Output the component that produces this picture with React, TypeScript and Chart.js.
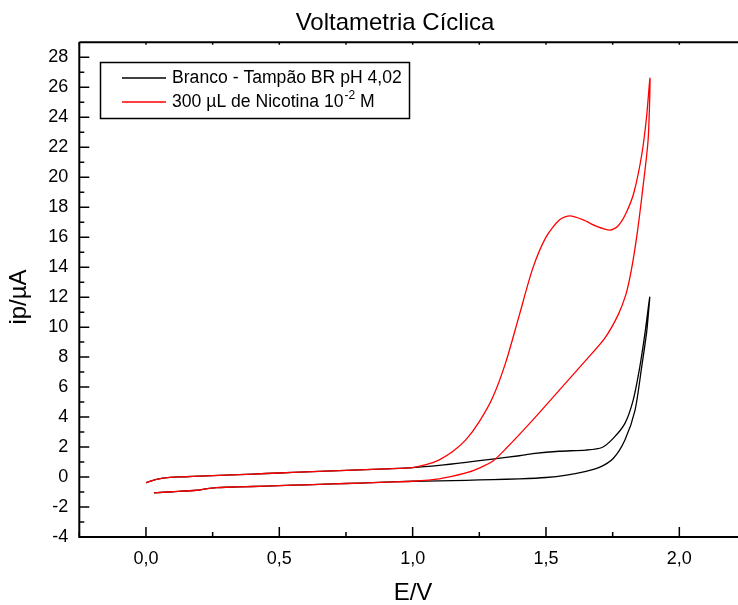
import React, { useEffect, useRef } from "react";
import { Chart, registerables } from "chart.js";

Chart.register(...registerables);

// ---------- text ----------
const chartTitle = "Voltametria Cíclica";
const xAxisTitle = "E/V";
const yAxisTitle = "ip/µA";
const seriesNames = ["Branco - Tampão BR pH 4,02", "300 µL de Nicotina 10"];
const seriesNameSup = ["", "-2"];
const seriesNameTail = ["", " M"];
const seriesColors = ["#000000", "#ff0000"];

// ---------- axes ----------
const xMin = -0.25;
const xMax = 2.22;
const yMin = -4;
const yMax = 29;
const xTicks = [0, 0.5, 1.0, 1.5, 2.0];
const xMinorTicks = [-0.25, 0.25, 0.75, 1.25, 1.75];
const yTicks = [-4, -2, 0, 2, 4, 6, 8, 10, 12, 14, 16, 18, 20, 22, 24, 26, 28];
const yMinorTicks = [-3, -1, 1, 3, 5, 7, 9, 11, 13, 15, 17, 19, 21, 23, 25, 27];

// ---------- data: Branco (forward scan then reverse scan) ----------
const brancoE = [
  0.0, 0.04, 0.09, 0.15, 0.2, 0.3, 0.4, 0.5, 0.6, 0.7, 0.8, 0.9, 1.0, 1.1, 1.2, 1.3, 1.4, 1.45, 1.55, 1.65,
  1.71, 1.752, 1.796, 1.827, 1.852, 1.871, 1.889,
  1.883, 1.877, 1.859, 1.834, 1.796, 1.752, 1.7, 1.65, 1.577, 1.5, 1.4, 1.3, 1.2, 1.1, 1.0,
  0.9, 0.8, 0.7, 0.6, 0.5, 0.4, 0.3, 0.265, 0.23, 0.19, 0.1, 0.03,
];
const brancoI = [
  -0.38, -0.15, -0.02, 0.02, 0.06, 0.13, 0.2, 0.27, 0.34, 0.41, 0.48, 0.55, 0.63, 0.78, 0.98, 1.2, 1.42, 1.56, 1.72, 1.8,
  1.97, 2.58, 3.58, 5.13, 7.36, 9.58, 12.0,
  10.7, 9.6, 7.36, 4.47, 2.47, 1.24, 0.64, 0.38, 0.13, -0.03, -0.12, -0.17, -0.22, -0.26, -0.28,
  -0.34, -0.4, -0.46, -0.52, -0.57, -0.63, -0.68, -0.71, -0.77, -0.88, -0.98, -1.05,
];

// ---------- data: Nicotina (forward scan then reverse scan) ----------
const nicotinaE = [
  0.0, 0.04, 0.09, 0.15, 0.2, 0.3, 0.4, 0.5, 0.6, 0.7, 0.8, 0.9, 1.0, 1.05, 1.1, 1.15, 1.2, 1.25, 1.3, 1.35,
  1.4, 1.45, 1.5, 1.55, 1.59, 1.64, 1.69, 1.74, 1.77, 1.8, 1.83, 1.86, 1.877, 1.89,
  1.883, 1.86, 1.84, 1.82, 1.8, 1.77, 1.72, 1.65, 1.55, 1.45, 1.35, 1.3, 1.25, 1.2, 1.1, 1.0,
  0.9, 0.8, 0.7, 0.6, 0.5, 0.4, 0.3, 0.265, 0.23, 0.19, 0.1, 0.03,
];
const nicotinaI = [
  -0.38, -0.15, -0.02, 0.02, 0.06, 0.13, 0.2, 0.27, 0.34, 0.41, 0.48, 0.55, 0.63, 0.82, 1.15, 1.7, 2.5, 3.7, 5.3, 7.7,
  10.8, 13.9, 16.0, 17.15, 17.42, 17.15, 16.72, 16.47, 16.75, 17.6, 19.0, 21.6, 24.0, 26.6,
  22.5, 18.8, 16.0, 13.8, 12.2, 10.8, 9.25, 7.8, 5.8, 3.8, 1.9, 1.05, 0.6, 0.27, -0.12, -0.28,
  -0.34, -0.4, -0.46, -0.52, -0.57, -0.63, -0.68, -0.71, -0.77, -0.88, -0.98, -1.05,
];

const FONT = "'Liberation Sans', Arial, Helvetica, sans-serif";

const toPoints = (xs: number[], ys: number[]) => xs.map((x, i) => ({ x, y: ys[i] }));

const frameTicksPlugin = {
  id: "frameTicks",
  afterDatasetsDraw(chart: any) {
    const { ctx, chartArea: a, scales } = chart;
    const x = scales.x;
    const y = scales.y;
    ctx.save();
    ctx.strokeStyle = "#000";
    ctx.lineWidth = 2;
    ctx.beginPath();
    ctx.moveTo(a.left, a.top);
    ctx.lineTo(a.right, a.top);
    ctx.moveTo(a.left, a.top);
    ctx.lineTo(a.left, a.bottom);
    ctx.lineTo(a.right, a.bottom);
    ctx.stroke();
    ctx.lineWidth = 1.5;
    ctx.beginPath();
    yTicks.forEach((v) => {
      const p = y.getPixelForValue(v);
      ctx.moveTo(a.left, p);
      ctx.lineTo(a.left + 10, p);
    });
    yMinorTicks.forEach((v) => {
      const p = y.getPixelForValue(v);
      ctx.moveTo(a.left, p);
      ctx.lineTo(a.left + 5, p);
    });
    xTicks.forEach((v) => {
      const p = x.getPixelForValue(v);
      ctx.moveTo(p, a.bottom);
      ctx.lineTo(p, a.bottom - 10);
      ctx.moveTo(p, a.top);
      ctx.lineTo(p, a.top + 2.5);
    });
    xMinorTicks.forEach((v) => {
      const p = x.getPixelForValue(v);
      ctx.moveTo(p, a.bottom);
      ctx.lineTo(p, a.bottom - 5);
      ctx.moveTo(p, a.top);
      ctx.lineTo(p, a.top + 2.5);
    });
    ctx.stroke();
    ctx.restore();
  },
};

const textPlugin = {
  id: "texts",
  afterDraw(chart: any) {
    const { ctx } = chart;
    ctx.save();
    ctx.fillStyle = "#000";
    ctx.textBaseline = "middle";
    ctx.textAlign = "center";
    ctx.font = `24px ${FONT}`;
    ctx.fillText(chartTitle, 395, 23.5);
    ctx.fillText(xAxisTitle, 413, 593);
    ctx.save();
    ctx.translate(19, 297);
    ctx.rotate(-Math.PI / 2);
    ctx.fillText(yAxisTitle, 0, 0);
    ctx.restore();

    // legend box
    ctx.strokeStyle = "#000";
    ctx.lineWidth = 1.5;
    ctx.strokeRect(100.5, 62.5, 309, 56);
    const rows = [78, 102];
    ctx.textAlign = "left";
    seriesNames.forEach((name, i) => {
      const ry = rows[i];
      ctx.strokeStyle = seriesColors[i];
      ctx.lineWidth = 1.3;
      ctx.beginPath();
      ctx.moveTo(122, ry);
      ctx.lineTo(166, ry);
      ctx.stroke();
      ctx.font = `17.6px ${FONT}`;
      let tx = 172;
      ctx.fillText(name, tx, ry);
      tx += ctx.measureText(name).width;
      if (seriesNameSup[i]) {
        ctx.font = `12px ${FONT}`;
        ctx.fillText(seriesNameSup[i], tx + 1, ry - 6);
        tx += ctx.measureText(seriesNameSup[i]).width + 1;
        ctx.font = `17.6px ${FONT}`;
      }
      if (seriesNameTail[i]) ctx.fillText(seriesNameTail[i], tx, ry);
    });
    ctx.restore();
  },
};

export default function App() {
  const ref = useRef<HTMLCanvasElement | null>(null);

  useEffect(() => {
    document.body.style.margin = "0";
    if (!ref.current) return;
    const chart = new Chart(ref.current, {
      type: "scatter",
      data: {
        datasets: [
          {
            label: seriesNames[1],
            data: toPoints(nicotinaE, nicotinaI),
            borderColor: seriesColors[1],
            backgroundColor: seriesColors[1],
            showLine: true,
            pointRadius: 0,
            borderWidth: 1.3,
            tension: 0.25,
          },
          {
            label: seriesNames[0],
            data: toPoints(brancoE, brancoI),
            borderColor: seriesColors[0],
            backgroundColor: seriesColors[0],
            showLine: true,
            pointRadius: 0,
            borderWidth: 1.3,
            tension: 0.25,
          },
        ],
      },
      options: {
        animation: false,
        responsive: false,
        layout: { padding: { top: 42.3, left: 0, right: 0, bottom: 0 } },
        plugins: {
          legend: { display: false },
          title: { display: false },
          tooltip: { enabled: false },
        },
        scales: {
          x: {
            type: "linear",
            position: "bottom",
            min: xMin,
            max: xMax,
            afterBuildTicks: (s: any) => {
              s.ticks = xTicks.map((v) => ({ value: v }));
            },
            afterFit: (s: any) => {
              s.height = 68;
            },
            grid: { display: false, drawTicks: false },
            border: { display: false },
            ticks: {
              color: "#000",
              font: { family: FONT, size: 18 },
              padding: 11,
              maxRotation: 0,
              autoSkip: false,
              callback: (v: any) => Number(v).toFixed(1).replace(".", ","),
            },
          },
          y: {
            type: "linear",
            min: yMin,
            max: yMax,
            afterBuildTicks: (s: any) => {
              s.ticks = yTicks.map((v) => ({ value: v }));
            },
            afterFit: (s: any) => {
              s.width = 79.3;
            },
            grid: { display: false, drawTicks: false },
            border: { display: false },
            ticks: {
              color: "#000",
              font: { family: FONT, size: 18 },
              padding: 11,
              autoSkip: false,
              callback: (v: any) => String(v),
            },
          },
        },
      },
      plugins: [frameTicksPlugin, textPlugin],
    });
    return () => chart.destroy();
  }, []);

  return (
    <div style={{ position: "absolute", left: 0, top: 0, width: 738, height: 605, background: "#fff" }}>
      <canvas ref={ref} width={738} height={605} />
    </div>
  );
}
